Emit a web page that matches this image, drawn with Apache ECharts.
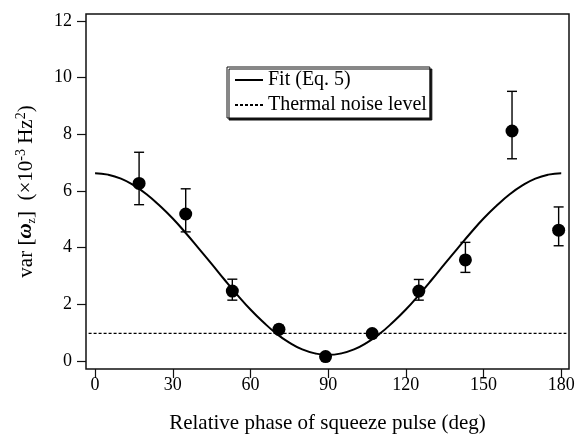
<!DOCTYPE html>
<html>
<head>
<meta charset="utf-8">
<script src="https://cdn.jsdelivr.net/npm/echarts@6/dist/echarts.min.js"></script>
<style>
  html, body { margin: 0; padding: 0; background: #fff; }
  #chart { width: 577px; height: 435px; }
</style>
</head>
<body>
<div id="chart"></div>
<script>
// measured points (phase in deg, variance in 1e-3 Hz^2)
const phase = [17, 35, 53, 71, 89, 107, 125, 143, 161, 179];
const variance = [6.27, 5.19, 2.47, 1.12, 0.16, 0.97, 2.47, 3.57, 8.12, 4.62];
const errLow = [5.52, 4.56, 2.15, 0.98, 0.1, 0.88, 2.15, 3.13, 7.14, 4.07];
const errHigh = [7.37, 6.08, 2.89, 1.26, 0.22, 1.06, 2.88, 4.19, 9.52, 5.44];

// fit curve every 5 deg
const fitPhase = [0, 5, 10, 15, 20, 25, 30, 35, 40, 45, 50, 55, 60, 65, 70, 75, 80, 85, 90,
  95, 100, 105, 110, 115, 120, 125, 130, 135, 140, 145, 150, 155, 160, 165, 170, 175, 180];
const fitValue = [6.63, 6.58, 6.44, 6.2, 5.88, 5.48, 5.03, 4.52, 3.98, 3.43, 2.87, 2.33, 1.82, 1.37, 0.97, 0.65, 0.41, 0.27, 0.22,
  0.27, 0.41, 0.65, 0.97, 1.37, 1.82, 2.33, 2.87, 3.43, 3.98, 4.52, 5.03, 5.48, 5.88, 6.2, 6.44, 6.58, 6.63];

// thermal noise level
const noisePhase = [-2.5, 182];
const noiseLevel = 0.98;

const xTicks = [0, 30, 60, 90, 120, 150, 180];
const yTicks = [0, 2, 4, 6, 8, 10, 12];

const serif = "'Liberation Serif', 'DejaVu Serif', serif";

const chart = echarts.init(document.getElementById("chart"));

const option = {
  animation: false,
  textStyle: { fontFamily: serif, color: "#000" },
  grid: {
    show: true,
    left: 86,
    right: 8,
    top: 14,
    bottom: 66,
    outerBoundsMode: "none",
    borderColor: "#111",
    borderWidth: 1.5,
  },
  legend: {
    left: 227,
    top: 67,
    orient: "vertical",
    padding: [3, 3, 3, 7],
    itemGap: 5,
    itemWidth: 28,
    itemHeight: 20,
    backgroundColor: "#fff",
    borderColor: "#111",
    borderWidth: 1,
    shadowColor: "#111",
    shadowBlur: 0,
    shadowOffsetX: 2,
    shadowOffsetY: 2,
    itemStyle: { opacity: 0 },
    textStyle: { fontFamily: serif, fontSize: 20, color: "#000" },
    data: ["Fit (Eq. 5)", "Thermal noise level"],
  },
  xAxis: {
    type: "value",
    min: -3.5,
    max: 183,
    name: "Relative phase of squeeze pulse (deg)",
    nameLocation: "middle",
    nameGap: 44,
    nameTextStyle: { fontFamily: serif, fontSize: 21, color: "#000" },
    axisLine: { show: false, onZero: false },
    splitLine: { show: false },
    axisTick: {
      show: true,
      customValues: xTicks,
      length: 9,
      lineStyle: { color: "#111", width: 1.2 },
    },
    axisLabel: {
      customValues: xTicks,
      margin: 7,
      fontFamily: serif,
      fontSize: 18,
      color: "#000",
    },
  },
  yAxis: {
    type: "value",
    min: -0.28,
    max: 12.25,
    name: "var [{w|ω}{sub|z}]  (×10{sup|-3} Hz{sup|2})",
    nameLocation: "middle",
    nameRotate: 90,
    nameGap: 48,
    nameTextStyle: {
      fontFamily: serif,
      fontSize: 21,
      color: "#000",
      rich: {
        w: { fontFamily: serif, fontSize: 21, fontStyle: "italic", fontWeight: "bold", color: "#000" },
        sub: { fontFamily: serif, fontSize: 12, verticalAlign: "bottom", padding: [10, 0, 0, 0], color: "#000" },
        sup: { fontFamily: serif, fontSize: 14, verticalAlign: "top", padding: [0, 0, 10, 0], color: "#000" },
      },
    },
    axisLine: { show: false, onZero: false },
    splitLine: { show: false },
    axisTick: {
      show: true,
      customValues: yTicks,
      length: 9,
      lineStyle: { color: "#111", width: 1.2 },
    },
    axisLabel: {
      customValues: yTicks,
      margin: 14,
      fontFamily: serif,
      fontSize: 18,
      color: "#000",
    },
  },
  series: [
    {
      name: "Fit (Eq. 5)",
      type: "line",
      smooth: true,
      symbol: "none",
      data: fitPhase.map((p, i) => [p, fitValue[i]]),
      lineStyle: { color: "#000", width: 2 },
      itemStyle: { color: "#000" },
      z: 3,
    },
    {
      name: "Thermal noise level",
      type: "line",
      symbol: "none",
      data: noisePhase.map((p) => [p, noiseLevel]),
      lineStyle: { color: "#000", width: 1.2, type: [3, 2] },
      itemStyle: { color: "#000" },
      z: 2,
    },
    {
      name: "errors",
      type: "custom",
      data: phase.map((p, i) => [p, errLow[i], errHigh[i]]),
      renderItem: (params, api) => {
        const lo = api.coord([api.value(0), api.value(1)]);
        const hi = api.coord([api.value(0), api.value(2)]);
        const cap = 5;
        const style = { stroke: "#000", lineWidth: 1.4 };
        return {
          type: "group",
          children: [
            { type: "line", shape: { x1: lo[0], y1: lo[1], x2: hi[0], y2: hi[1] }, style },
            { type: "line", shape: { x1: hi[0] - cap, y1: hi[1], x2: hi[0] + cap, y2: hi[1] }, style },
            { type: "line", shape: { x1: lo[0] - cap, y1: lo[1], x2: lo[0] + cap, y2: lo[1] }, style },
          ],
        };
      },
      z: 4,
    },
    {
      name: "data",
      type: "scatter",
      symbol: "circle",
      symbolSize: 13,
      data: phase.map((p, i) => [p, variance[i]]),
      itemStyle: { color: "#000", opacity: 1 },
      z: 5,
    },
  ],
};

chart.setOption(option);
</script>
</body>
</html>
